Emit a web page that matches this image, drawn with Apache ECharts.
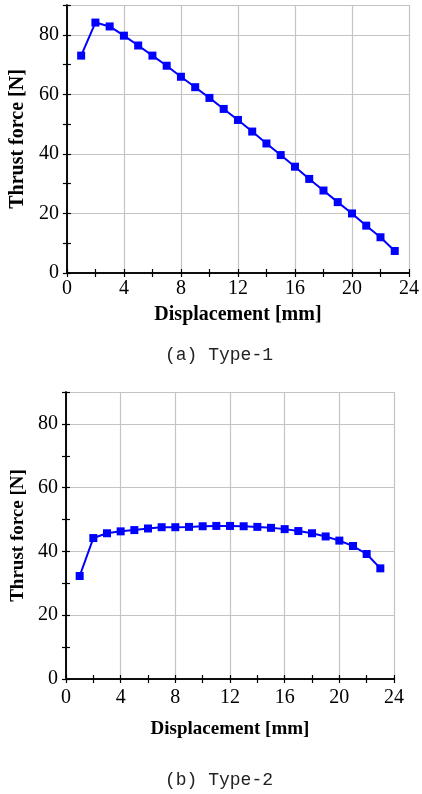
<!DOCTYPE html>
<html><head><meta charset="utf-8">
<script src="https://cdn.jsdelivr.net/npm/echarts@6/dist/echarts.min.js"></script>
<style>html,body{margin:0;padding:0;background:#fff}#c{width:422px;height:794px}</style>
</head><body><div id="c"></div>
<script>
var displacement = [1,2,3,4,5,6,7,8,9,10,11,12,13,14,15,16,17,18,19,20,21,22,23];
var type1Force = [73.0,84.1,82.8,79.7,76.4,73.0,69.6,65.9,62.4,58.8,55.1,51.4,47.5,43.5,39.6,35.7,31.6,27.7,23.8,20.0,15.9,12.0,7.4];
var type2Force = [32.3,44.2,45.7,46.3,46.7,47.2,47.6,47.6,47.7,47.9,48.0,48.0,47.9,47.7,47.4,47.0,46.4,45.7,44.7,43.4,41.7,39.2,34.7];
var xTicks = ['0','4','8','12','16','20','24'];
var yTicks = ['0','20','40','60','80'];
var captions = ['(a) Type-1','(b) Type-2'];
var xTitle = 'Displacement [mm]';
var yTitle = 'Thrust force [N]';

var chart = echarts.init(document.getElementById('c'), null, {renderer:'canvas'});
var serif = 'Liberation Serif';
function pairs(v){ return displacement.map(function(x,i){return [x,v[i]];}); }

function axesFor(gi, fs, tfs, xMargin, xGap, yGap){
  var line = {show:true, lineStyle:{color:'#000', width:1.5}};
  var tick = {show:true, length:4, lineStyle:{color:'#000', width:1.2}};
  var minor = {show:true, splitNumber:2, length:4, lineStyle:{color:'#000', width:1.2}};
  var split = {show:true, lineStyle:{color:'#c4c4c4', width:1.2}};
  return {
    x: [
      {type:'value', gridIndex:gi, position:'bottom', min:0, max:24, interval:4,
       axisLine:line, axisTick:tick, minorTick:minor, splitLine:split,
       axisLabel:{show:true, margin:xMargin, color:'#000', fontFamily:serif, fontSize:fs,
         formatter:function(v){ return xTicks[Math.round(v/4)]; }},
       name:xTitle, nameLocation:'middle', nameGap:xGap,
       nameTextStyle:{color:'#000', fontFamily:serif, fontWeight:'bold', fontSize:tfs}},
      {type:'value', gridIndex:gi, position:'top', min:0, max:24, interval:4,
       axisLine:line, axisTick:tick, minorTick:minor, splitLine:{show:false},
       axisLabel:{show:false}}
    ],
    y: [
      {type:'value', gridIndex:gi, position:'left', min:0, max:90, interval:20,
       axisLine:line, axisTick:tick, minorTick:minor, splitLine:split,
       axisLabel:{show:true, margin:8, color:'#000', fontFamily:serif, fontSize:fs,
         formatter:function(v){ var i=Math.round(v/20); return yTicks[i]!==undefined?yTicks[i]:''; }},
       name:yTitle, nameLocation:'middle', nameGap:yGap,
       nameTextStyle:{color:'#000', fontFamily:serif, fontWeight:'bold', fontSize:tfs}},
      {type:'value', gridIndex:gi, position:'right', min:0, max:90, interval:20,
       axisLine:line, axisTick:tick, minorTick:minor, splitLine:{show:false},
       axisLabel:{show:false}}
    ]
  };
}
var a1 = axesFor(0, 20, 20, 6, 32, 37);
var a2 = axesFor(1, 20, 19, 9, 41, 37);

var lineStyle = {color:'#0000ff', width:2};
var option = {
  animation:false,
  grid:[
    {left:66, right:10, top:5, height:268},
    {left:66, right:28, top:392, height:287}
  ],
  xAxis: a1.x.concat(a2.x),
  yAxis: a1.y.concat(a2.y),
  series:[
    {type:'line', xAxisIndex:0, yAxisIndex:0, data:pairs(type1Force), symbol:'rect', symbolSize:8,
     lineStyle:lineStyle, itemStyle:{color:'#0000ff'}},
    {type:'line', xAxisIndex:2, yAxisIndex:2, data:pairs(type2Force), symbol:'rect', symbolSize:8,
     lineStyle:lineStyle, itemStyle:{color:'#0000ff'}}
  ],
  graphic:[
    {type:'text', x:219, y:355, style:{text:captions[0], fontFamily:'Liberation Mono', fontSize:18, fill:'#222', textAlign:'center', textVerticalAlign:'middle'}},
    {type:'text', x:219, y:780, style:{text:captions[1], fontFamily:'Liberation Mono', fontSize:18, fill:'#222', textAlign:'center', textVerticalAlign:'middle'}}
  ]
};
chart.setOption(option);
</script></body></html>
